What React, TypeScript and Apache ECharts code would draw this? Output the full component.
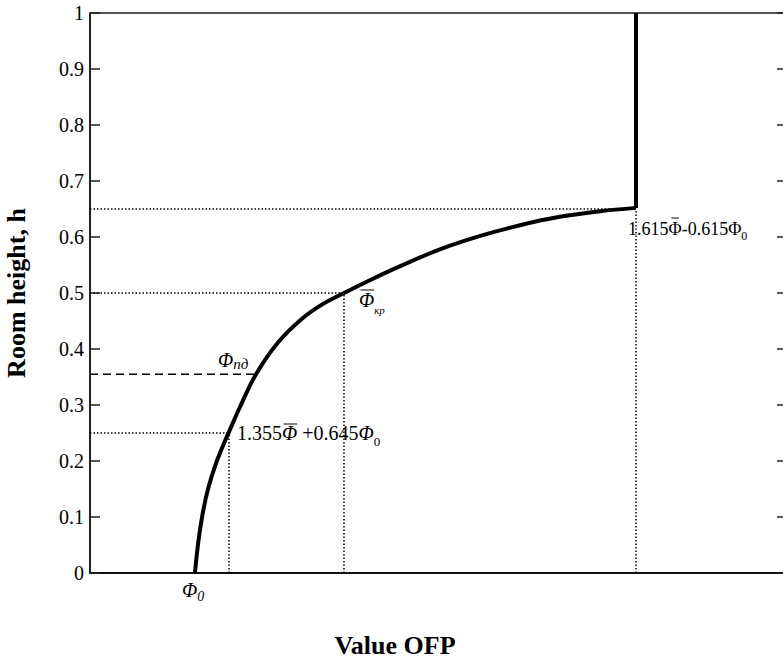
import React, { useEffect, useRef } from "react";
import * as echarts from "echarts";

// ---- data (x in arbitrary OFP units 0..100, h = room height) ----
const curveX = [15.06, 15.3, 15.7, 16.3, 17.0, 18.0, 19.0, 19.94, 21.5, 23.82, 27.0, 30.5, 33.5, 36.44, 40.0, 44.5, 50.2, 56.0, 61.7, 67.4, 73.2, 78.34];
const curveH = [0.0, 0.03, 0.07, 0.115, 0.153, 0.193, 0.225, 0.252, 0.296, 0.355, 0.412, 0.455, 0.481, 0.5, 0.522, 0.548, 0.578, 0.602, 0.621, 0.636, 0.646, 0.652];
const PHI0_X = 15.06;
const X_A = 19.94; // 1.355Φ̄+0.645Φ0
const H_A = 0.25;
const X_PD = 23.82; // Φпд
const H_PD = 0.355;
const X_KR = 36.44; // Φ̄кр
const H_KR = 0.5;
const X_B = 78.34; // 1.615Φ̄-0.615Φ0
const H_B = 0.65;
const H_TOP = 1;
const yTickInterval = 0.1;

const FONT = '"Liberation Serif", "Times New Roman", serif';

export default function App() {
  const ref = useRef<HTMLDivElement>(null);
  useEffect(() => {
    if (!ref.current) return;
    const chart = echarts.init(ref.current, null, { renderer: "svg" });
    const curve = curveX.map((x, i) => [x, curveH[i]]);
    const dotted = { color: "#000", width: 1.5, type: [1.5, 2] as any };
    const mk = (data: number[][], lineStyle: any) => ({
      type: "line",
      data,
      symbol: "none",
      silent: true,
      lineStyle,
      z: 2,
    });
    chart.setOption({
      animation: false,
      backgroundColor: "#fff",
      grid: { left: 90, top: 13, width: 697, height: 560, containLabel: false, outerBoundsMode: "none" },
      xAxis: [
        {
          type: "value",
          min: 0,
          max: 100,
          axisLine: { show: true, onZero: false, lineStyle: { color: "#111", width: 2 } },
          axisTick: { show: false },
          axisLabel: { show: false },
          splitLine: { show: false },
        },
        {
          type: "value",
          position: "top",
          min: 0,
          max: 100,
          axisLine: { show: true, onZero: false, lineStyle: { color: "#555", width: 2 } },
          axisTick: { show: false },
          axisLabel: { show: false },
          splitLine: { show: false },
        },
      ],
      yAxis: [
        {
          type: "value",
          min: 0,
          max: 1,
          interval: yTickInterval,
          name: "Room height, h",
          nameLocation: "middle",
          nameGap: 61,
          nameRotate: 90,
          nameTextStyle: { fontFamily: FONT, fontWeight: "bold", fontSize: 26, color: "#000" },
          axisLine: { show: true, onZero: false, lineStyle: { color: "#222", width: 2 } },
          axisTick: { show: true, inside: true, length: 10, lineStyle: { color: "#222", width: 1.5 } },
          axisLabel: { fontFamily: FONT, fontSize: 20, color: "#000", margin: 6 },
          splitLine: { show: false },
        },
        {
          type: "value",
          position: "right",
          min: 0,
          max: 1,
          interval: yTickInterval,
          axisLine: { show: true, onZero: false, lineStyle: { color: "#222", width: 2 } },
          axisTick: { show: true, inside: true, length: 10, lineStyle: { color: "#222", width: 1.5 } },
          axisLabel: { show: false },
          splitLine: { show: false },
        },
      ],
      series: [
        { ...mk(curve, { color: "#000", width: 4 }), smooth: 0.35, z: 5 },
        { ...mk([[X_B, H_B + 0.002], [X_B, H_TOP]], { color: "#000", width: 4 }), z: 5 },
        mk([[0, H_B], [X_B, H_B]], dotted),
        mk([[0, H_KR], [X_KR, H_KR]], dotted),
        mk([[0, H_A], [X_A, H_A]], dotted),
        mk([[X_A, 0], [X_A, H_A]], dotted),
        mk([[X_KR, 0], [X_KR, H_KR]], dotted),
        mk([[X_B, 0], [X_B, H_B]], dotted),
        mk([[0, H_PD], [X_PD, H_PD]], { color: "#000", width: 1.6, type: [8, 5] }),
      ],
    });

    const ctx = document.createElement("canvas").getContext("2d")!;
    const measure = (t: string, size: number, italic?: boolean) => {
      ctx.font = `${italic ? "italic " : ""}${size}px "Liberation Serif"`;
      return ctx.measureText(t).width;
    };
    type Part = { t: string; size: number; italic?: boolean; dy?: number; over?: [number, number, number] };
    const seq = (x0: number, yMid: number, parts: Part[]) => {
      const els: any[] = [];
      let x = x0;
      for (const p of parts) {
        const wdt = measure(p.t, p.size, p.italic);
        els.push({
          type: "text",
          x,
          y: yMid + (p.dy || 0),
          silent: true,
          z: 10,
          style: {
            text: p.t,
            fontFamily: FONT,
            fontSize: p.size,
            fontStyle: p.italic ? "italic" : "normal",
            fill: "#000",
            align: "left",
            verticalAlign: "middle",
          },
        });
        if (p.over) {
          els.push({
            type: "line",
            silent: true,
            z: 10,
            shape: { x1: x + wdt * p.over[1], y1: yMid + p.over[0], x2: x + wdt * p.over[2], y2: yMid + p.over[0] },
            style: { stroke: "#000", lineWidth: 1 },
          });
        }
        x += wdt;
      }
      return els;
    };
    const px = (x: number, h: number) => chart.convertToPixel({ xAxisIndex: 0, yAxisIndex: 0 }, [x, h]) as number[];

    const a0 = px(PHI0_X, 0);
    const aPd = px(X_PD, H_PD);
    const aKr = px(X_KR, H_KR);
    const aA = px(X_A, H_A);
    const aB = px(X_B, H_B);

    const graphics: any[] = [
      ...seq(a0[0] - 13, a0[1] + 17, [
        { t: "Φ", size: 20, italic: true },
        { t: "0", size: 14, italic: true, dy: 6 },
      ]),
      ...seq(aPd[0] - 38, aPd[1] - 14, [
        { t: "Φ", size: 20, italic: true },
        { t: "пд", size: 15, italic: true, dy: 4 },
      ]),
      ...seq(aKr[0] + 15, aKr[1] + 7, [
        { t: "Φ", size: 20, italic: true, over: [-10, 0.1, 1.0] },
        { t: "кр", size: 11, italic: true, dy: 10 },
      ]),
      ...seq(aA[0] + 8, aA[1], [
        { t: "1.355", size: 20 },
        { t: "Φ", size: 20, italic: true, over: [-9, 0.1, 1.0] },
        { t: " +0.645", size: 20 },
        { t: "Φ", size: 20, italic: true },
        { t: "0", size: 13, dy: 8 },
      ]),
      ...seq(aB[0] - 8, aB[1] + 20, [
        { t: "1.615", size: 18 },
        { t: "Φ", size: 18, over: [-11, 0.22, 0.78] },
        { t: "-0.615", size: 18 },
        { t: "Φ", size: 18 },
        { t: "0", size: 12, dy: 7 },
      ]),
      {
        type: "text",
        x: 395,
        y: 645,
        silent: true,
        style: {
          text: "Value OFP",
          fontFamily: FONT,
          fontWeight: "bold",
          fontSize: 26,
          fill: "#000",
          align: "center",
          verticalAlign: "middle",
        },
      },
    ];
    chart.setOption({ graphic: graphics });
    return () => chart.dispose();
  }, []);
  return (
    <div
      ref={ref}
      style={{ position: "fixed", left: 0, top: 0, width: 783, height: 662, background: "#fff" }}
    />
  );
}
